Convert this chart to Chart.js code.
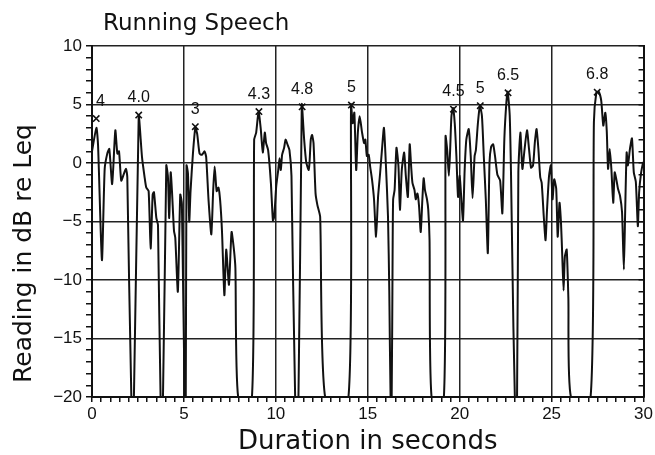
<!DOCTYPE html>
<html>
<head>
<meta charset="utf-8">
<script src="https://cdn.jsdelivr.net/npm/chart.js@4.4.1/dist/chart.umd.min.js"></script>
<style>
    html, body { margin: 0; padding: 0; background: #fff; }
    canvas { display: block; }
</style>
</head>
<body>
<canvas id="speechChart" width="655" height="455"></canvas>
<script>
// level trace: time (s) and reading (dB re Leq), -20 = bottom of scale
const timeSec = [
    0.00, 0.24, 0.33, 0.54, 0.69, 0.83, 0.94, 1.09, 1.16, 1.27, 1.38, 1.47, 1.59, 1.74, 1.85, 1.92,
    2.14, 2.28, 2.54, 2.72, 2.86, 2.95, 3.08, 3.19, 3.30, 3.37, 3.50, 3.59, 3.73, 3.86,
    4.04, 4.13, 4.20, 4.28, 4.35, 4.46, 4.53, 4.67, 4.80, 4.89, 5.04, 5.10,
    5.14, 5.22, 5.29, 5.36, 5.49, 5.62, 5.72, 5.85, 5.98, 6.12, 6.21, 6.34, 6.49, 6.59, 6.67,
    6.78, 6.88, 6.97, 7.07, 7.20, 7.30, 7.45, 7.59, 7.72, 7.80, 7.95, 8.70,
    8.82, 8.93, 9.06, 9.18, 9.29, 9.40, 9.47, 9.58, 9.73, 9.84, 9.91, 10.02, 10.13, 10.20,
    10.27, 10.34, 10.45, 10.53, 10.63, 10.74, 10.85, 11.05, 11.23,
    11.41, 11.54, 11.65, 11.78, 11.83, 11.90, 11.97, 12.05, 12.16, 12.26, 12.41, 12.68, 13.95,
    14.09, 14.18, 14.27, 14.37, 14.46, 14.56, 14.69, 14.80, 14.87, 14.95, 15.05, 15.13, 15.23,
    15.34, 15.45, 15.56, 15.67, 15.77, 15.88, 15.99, 16.10, 16.17, 16.24, 16.30, 16.35, 16.38,
    16.46, 16.56, 16.67, 16.75, 16.85, 16.98, 17.07, 17.18, 17.28, 17.36, 17.43, 17.54, 17.61,
    17.70, 17.79, 17.88, 17.97, 18.04, 18.11, 18.22, 18.29, 18.36, 18.47, 19.14,
    19.23, 19.32, 19.41, 19.48, 19.55, 19.64, 19.73, 19.82, 19.91, 20.00, 20.09, 20.18, 20.27,
    20.36, 20.49, 20.60, 20.70, 20.81, 20.88, 20.99, 21.10, 21.21, 21.31, 21.42, 21.53, 21.62,
    21.71, 21.82, 21.92, 22.05, 22.20, 22.32, 22.43, 22.54, 22.61, 22.72, 22.79, 22.86, 23.00, 23.12,
    23.19, 23.30, 23.41, 23.51, 23.66, 23.77, 23.88, 23.99, 24.09, 24.18, 24.28, 24.38, 24.46,
    24.57, 24.67, 24.75, 24.86, 24.96, 25.05, 25.14, 25.25, 25.33, 25.43, 25.51, 25.58, 25.65,
    25.72, 25.82, 25.91, 26.05, 27.12,
    27.30, 27.43, 27.56, 27.70, 27.81, 27.92, 28.00, 28.07, 28.16, 28.25, 28.35, 28.43, 28.52,
    28.61, 28.72, 28.83, 28.93, 29.00, 29.08, 29.15, 29.26, 29.37, 29.47, 29.58, 29.69, 29.76,
    29.87, 29.98
];
const levelDb = [
    1.0, 3.0, 1.5, -8.3, -0.5, 0.8, 1.2, -1.8, -0.3, 2.8, 0.8, 1.0, -1.5, -0.9, -0.5, -1.2,
    -20, -20, 4.0, 0.5, -1.2, -2.1, -2.4, -7.3, -2.7, -2.5, -4.7, -5.3, -20, -20,
    -0.2, -1.2, -4.7, -0.8, -2.4, -5.8, -6.4, -11.0, -2.7, -3.5, -20, -20,
    -0.2, -0.9, -5.0, -2.4, 0.8, 3.0, 2.5, 0.8, 0.7, 1.0, 0.5, -3.2, -6.1, -2.4, -0.3,
    -2.4, -2.1, -3.2, -5.8, -11.3, -7.4, -10.4, -5.9, -7.4, -9.0, -20, -20,
    2.0, 2.6, 4.4, 2.9, 0.9, 2.6, 1.7, 1.1, -1.7, -4.9, -4.6, -2.0, -0.6, 0.4,
    -0.6, 0.7, 1.3, 2.0, 1.6, 1.1, -1.1, -20, -20,
    5.0, 2.0, 0.1, -0.6, 0.0, 2.0, 2.4, 1.7, -2.6, -3.6, -4.6, -20, -20,
    5.0, 3.4, 4.3, -0.6, 2.6, 4.0, 2.6, 1.7, 2.0, 0.6, 0.7, -0.3, -1.4,
    -3.1, -6.3, -2.9, -0.9, 1.1, 3.0, -0.3, -4.6, -10.9, -20, -20, -8.0, -3.1,
    -2.3, 1.3, -0.3, -4.0, -0.6, 0.9, -1.1, -2.9, 1.6, -0.3, -1.7, -2.3, -3.1,
    -2.6, -3.7, -5.9, -3.1, -1.3, -2.3, -3.1, -4.0, -6.6, -20, -20,
    2.3, 1.1, -1.1, 1.1, 4.0, 4.7, 3.4, 0.6, -2.9, -1.1, -3.1, -4.9, -0.6,
    2.0, 2.9, 0.6, -3.0, 0.6, 1.1, 3.4, 4.9, 4.0, 0.6, -3.1, -7.7, 0.0,
    1.4, 1.6, 0.6, -1.0, -1.5, -4.3, 2.1, 5.2, 6.1, 4.1, -0.8, -8.0, -20, -20,
    -0.8, 2.6, -0.5, 0.9, 2.8, 1.2, -0.4, -0.2, 1.8, 2.9, 1.2, -1.2, -1.7,
    -4.5, -6.6, -4.0, -1.1, -0.2, -3.1, -1.4, -2.2, -6.3, -3.4, -5.1, -8.0, -10.9,
    -8.0, -7.4, -11.5, -20, -20,
    3.5, 6.0, 6.1, 5.3, 3.2, 4.3, 2.7, -0.5, 1.2, -0.5, -3.4, -0.8, -1.4,
    -2.2, -2.8, -4.2, -9.1, -4.2, 0.9, -0.2, 1.2, 2.1, -0.8, -1.6, -5.4, -2.5,
    -0.8, 0.1
];

// marked peaks
const peakSec = [0.23, 2.54, 5.62, 9.08, 11.43, 14.11, 19.66, 21.12, 22.63, 27.48];
const peakDb = [3.8, 4.1, 3.1, 4.4, 4.8, 4.95, 4.6, 4.9, 6.0, 6.05];
const peakLabels = ['4', '4.0', '3', '4.3', '4.8', '5', '4.5', '5', '6.5', '6.8'];

const xTicks = [0, 5, 10, 15, 20, 25, 30];
const yTicks = [-20, -15, -10, -5, 0, 5, 10];

const INK = '#111';
const GRID = '#222';

function isMajor(list, v) {
    return list.some(t => Math.abs(t - v) < 1e-6);
}

const speechText = {
    id: 'speechText',
    afterDraw(chart) {
        const { ctx, chartArea } = chart;
        const meta = chart.getDatasetMeta(1);

        ctx.save();
        ctx.fillStyle = INK;

        // peak values
        ctx.font = '16px "Liberation Sans"';
        ctx.textAlign = 'center';
        ctx.textBaseline = 'alphabetic';
        meta.data.forEach((pt, i) => {
            const w = ctx.measureText(peakLabels[i]).width;
            const x = Math.max(pt.x, chartArea.left + 4 + w / 2);
            ctx.fillText(peakLabels[i], x, pt.y - 13);
        });

        // chart title
        ctx.font = '23px "DejaVu Sans"';
        ctx.textAlign = 'left';
        ctx.fillText('Running Speech', chartArea.left + 11, 30);

        // y axis title
        ctx.font = '25px "DejaVu Sans"';
        ctx.textAlign = 'center';
        ctx.translate(31, (chartArea.top + chartArea.bottom) / 2 + 32);
        ctx.rotate(-Math.PI / 2);
        ctx.fillText('Reading in dB re Leq', 0, 0);
        ctx.restore();
    }
};

const ctx = document.getElementById('speechChart').getContext('2d');
new Chart(ctx, {
    type: 'line',
    data: {
        datasets: [{
            data: timeSec.map((t, i) => ({ x: t, y: levelDb[i] })),
            borderColor: INK,
            borderWidth: 2,
            pointRadius: 0,
            tension: 0.2,
            yAxisID: 'y'
        }, {
            type: 'scatter',
            data: peakSec.map((t, i) => ({ x: t, y: peakDb[i] })),
            pointStyle: 'crossRot',
            pointRadius: 4.5,
            borderColor: INK,
            borderWidth: 1.6,
            showLine: false,
            yAxisID: 'y'
        }]
    },
    options: {
        responsive: false,
        animation: false,
        layout: { padding: { top: 46, left: 0, right: 0, bottom: 0 } },
        plugins: {
            legend: { display: false },
            tooltip: { enabled: false },
            title: { display: false }
        },
        scales: {
            x: {
                type: 'linear',
                min: 0,
                max: 30,
                ticks: {
                    stepSize: 0.5,
                    autoSkip: false,
                    maxRotation: 0,
                    padding: 2,
                    color: INK,
                    font: { family: 'Liberation Sans', size: 17 },
                    callback: v => isMajor(xTicks, v) ? String(v) : ''
                },
                grid: {
                    color: c => isMajor(xTicks, c.tick.value) ? GRID : 'rgba(0,0,0,0)',
                    tickColor: INK,
                    lineWidth: 1.5,
                    tickLength: 5
                },
                border: { color: INK, width: 2 },
                title: {
                    display: true,
                    text: 'Duration in seconds',
                    color: INK,
                    font: { family: 'DejaVu Sans', size: 26, lineHeight: 1 },
                    padding: { top: 0, bottom: 0 }
                },
                afterFit: s => { s.height = 58; }
            },
            y: {
                position: 'left',
                min: -20,
                max: 10,
                ticks: {
                    stepSize: 1,
                    autoSkip: false,
                    padding: 4,
                    color: INK,
                    font: { family: 'Liberation Sans', size: 17 },
                    callback: v => isMajor(yTicks, v) ? (v < 0 ? '\u2212' + (-v) : String(v)) : ''
                },
                grid: {
                    color: c => isMajor(yTicks, c.tick.value) ? GRID : 'rgba(0,0,0,0)',
                    tickColor: INK,
                    lineWidth: 1.5,
                    tickLength: 6
                },
                border: { color: INK, width: 2 },
                afterFit: s => { s.width = 92; }
            },
            y2: {
                position: 'right',
                min: -20,
                max: 10,
                ticks: { stepSize: 1, autoSkip: false, display: false },
                grid: {
                    drawOnChartArea: false,
                    tickColor: INK,
                    lineWidth: 1.5,
                    tickLength: -5
                },
                border: { color: INK, width: 2 },
                afterFit: s => { s.width = 11; }
            }
        }
    },
    plugins: [speechText]
});
</script>
</body>
</html>
